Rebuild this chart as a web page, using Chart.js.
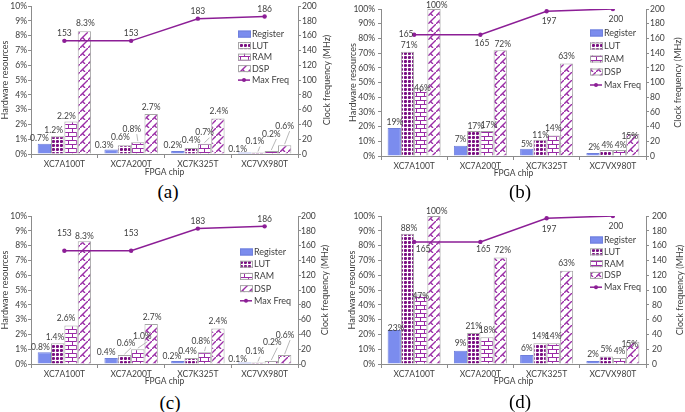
<!DOCTYPE html>
<html>
<head>
<meta charset="utf-8">
<script src="https://cdn.jsdelivr.net/npm/chart.js@4"></script>
<style>
  body { margin: 0; background: #fff; }
  #wrap { position: relative; width: 685px; height: 412px; overflow: hidden; }
  #wrap canvas { position: absolute; }
  .cap { position: absolute; width: 60px; text-align: center; font: 19px "Liberation Serif", serif; color: #000; }
</style>
</head>
<body>
<div id="wrap">
  <canvas id="chartA" width="345" height="181" style="left:0;top:0"></canvas>
  <canvas id="chartB" width="345" height="182" style="left:340px;top:0"></canvas>
  <canvas id="chartC" width="345" height="185" style="left:0;top:205px"></canvas>
  <canvas id="chartD" width="345" height="185" style="left:340px;top:205px"></canvas>
  <div class="cap" style="left:138px;top:181px">(a)</div>
  <div class="cap" style="left:490px;top:181px">(b)</div>
  <div class="cap" style="left:140px;top:392px">(c)</div>
  <div class="cap" style="left:490px;top:391px">(d)</div>
</div>
<script>
const chips = ['XC7A100T', 'XC7A200T', 'XC7K325T', 'XC7VX980T'];
const seriesNames = ['Register', 'LUT', 'RAM', 'DSP', 'Max Freq'];

// (a)
const registerA = [0.7, 0.3, 0.2, 0.1];
const lutA = [1.2, 0.6, 0.4, 0.1];
const ramA = [2.2, 0.8, 0.7, 0.2];
const dspA = [8.3, 2.7, 2.4, 0.6];
const freqA = [153, 153, 183, 186];

// (b)
const registerB = [19, 7, 5, 2];
const lutB = [71, 17, 11, 4];
const ramB = [46, 17, 14, 4];
const dspB = [100, 72, 63, 15];
const freqB = [165, 165, 197, 200];

// (c)
const registerC = [0.8, 0.4, 0.2, 0.1];
const lutC = [1.4, 0.6, 0.4, 0.1];
const ramC = [2.6, 1.0, 0.8, 0.2];
const dspC = [8.3, 2.7, 2.4, 0.6];
const freqC = [153, 153, 183, 186];

// (d)
const registerD = [23, 9, 6, 2];
const lutD = [88, 21, 14, 5];
const ramD = [47, 18, 14, 4];
const dspD = [100, 72, 63, 15];
const freqD = [165, 165, 197, 200];

const purple = '#8c1e96';
const axisGrey = '#8c8c8c';
const textGrey = '#404040';

Chart.defaults.font.family = 'Lato';
Chart.defaults.font.size = 8.5;
Chart.defaults.color = textGrey;

function makePattern(kind) {
  const c = document.createElement('canvas');
  const g = c.getContext('2d');
  if (kind === 'dots') {
    c.width = 4; c.height = 4;
    g.fillStyle = '#fff'; g.fillRect(0, 0, 4, 4);
    g.fillStyle = '#7a1082';
    g.beginPath(); g.arc(1.5, 1.5, 1.6, 0, Math.PI * 2); g.fill();
  } else if (kind === 'bricks') {
    c.width = 8; c.height = 8;
    g.fillStyle = '#fff'; g.fillRect(0, 0, 8, 8);
    g.strokeStyle = '#9a2ca6'; g.lineWidth = 1;
    g.beginPath();
    g.moveTo(0, 0.5); g.lineTo(8, 0.5);
    g.moveTo(0, 4.5); g.lineTo(8, 4.5);
    g.moveTo(0.5, 0); g.lineTo(0.5, 4.5);
    g.moveTo(4.5, 4.5); g.lineTo(4.5, 8);
    g.stroke();
  } else {
    c.width = 8; c.height = 8;
    g.fillStyle = '#fff'; g.fillRect(0, 0, 8, 8);
    g.strokeStyle = '#9a2ca6'; g.lineWidth = 1.4;
    g.beginPath();
    g.moveTo(-1, 9); g.lineTo(9, -1);
    g.moveTo(2.5, 5.5); g.lineTo(5, 8);
    g.stroke();
  }
  return g.createPattern(c, 'repeat');
}

const fills = ['#7b8cee', makePattern('dots'), makePattern('bricks'), makePattern('zigzag')];
const borders = ['#6f7fdc', '#a6a6a6', '#a6a6a6', '#a6a6a6'];

// value labels above bars and line points
const valueLabels = {
  id: 'valueLabels',
  afterDatasetsDraw(chart, args, o) {
    const ctx = chart.ctx;
    ctx.save();
    ctx.font = '8.5px Lato';
    ctx.textAlign = 'center';
    ctx.textBaseline = 'middle';
    chart.data.datasets.forEach((ds, di) => {
      const meta = chart.getDatasetMeta(di);
      meta.data.forEach((el, i) => {
        const v = ds.data[i];
        const text = ds.type === 'line' ? String(v) : o.fmt(v);
        const n = o.nudge[di][i] || [0, 0];
        const x = el.x + n[0];
        const y = el.y - 7 + n[1];
        if (n[2]) {
          ctx.strokeStyle = '#a6a6a6';
          ctx.lineWidth = 0.8;
          ctx.beginPath();
          ctx.moveTo(x + 5, y + 5);
          ctx.lineTo(el.x, el.y - 1);
          ctx.stroke();
        }
        ctx.fillStyle = textGrey;
        ctx.fillText(text, x, y);
      });
    });
    ctx.restore();
  }
};

// legend inside the plot, plus right axis title reading upwards
const sideBits = {
  id: 'sideBits',
  afterDraw(chart, args, o) {
    const ctx = chart.ctx, a = chart.chartArea;
    ctx.save();
    ctx.font = '9px Lato';
    ctx.textBaseline = 'middle';
    let x = a.right + o.dx, y = a.top + o.dy;
    chart.data.datasets.forEach(ds => {
      if (ds.type === 'line') {
        ctx.strokeStyle = ds.borderColor;
        ctx.lineWidth = 1.5;
        ctx.beginPath(); ctx.moveTo(x, y); ctx.lineTo(x + 12, y); ctx.stroke();
        ctx.fillStyle = ds.borderColor;
        ctx.beginPath(); ctx.arc(x + 6, y, 2, 0, Math.PI * 2); ctx.fill();
      } else {
        ctx.fillStyle = ds.backgroundColor;
        ctx.fillRect(x, y - 3.5, 13, 7);
        ctx.strokeStyle = ds.borderColor;
        ctx.lineWidth = 1;
        ctx.strokeRect(x + 0.5, y - 3, 12, 6);
      }
      ctx.fillStyle = textGrey;
      ctx.fillText(ds.label, x + 14, y);
      y += o.gap;
    });
    ctx.translate(o.titleX, (a.top + a.bottom) / 2);
    ctx.rotate(-Math.PI / 2);
    ctx.textAlign = 'center';
    ctx.fillText('Clock frequency (MHz)', 0, 0);
    ctx.restore();
  }
};

function makeChart(id, reg, lut, ram, dsp, freq, g) {
  const series = [reg, lut, ram, dsp];
  const datasets = series.map((vals, k) => ({
    type: 'bar',
    label: seriesNames[k],
    data: vals,
    backgroundColor: fills[k],
    borderColor: borders[k],
    borderWidth: 1,
    yAxisID: 'y',
    order: 1,
    categoryPercentage: 0.8,
    barPercentage: 1.0
  }));
  datasets.push({
    type: 'line',
    label: seriesNames[4],
    data: freq,
    borderColor: purple,
    backgroundColor: purple,
    borderWidth: 1.5,
    pointRadius: 2.2,
    pointBackgroundColor: purple,
    pointBorderWidth: 0,
    yAxisID: 'y1',
    order: 0
  });

  return new Chart(document.getElementById(id), {
    data: { labels: chips, datasets },
    plugins: [valueLabels, sideBits],
    options: {
      responsive: false,
      animation: false,
      layout: { padding: { top: g.top, left: 0, right: 0, bottom: 0 } },
      plugins: {
        legend: { display: false },
        tooltip: { enabled: false },
        valueLabels: { fmt: g.fmt, nudge: g.nudge },
        sideBits: { dx: g.legX, dy: g.legY, gap: g.legGap, titleX: g.rTitleX }
      },
      scales: {
        x: {
          grid: { offset: true, drawOnChartArea: false, tickLength: 4, color: axisGrey },
          border: { color: axisGrey },
          ticks: { padding: 1, font: { size: 8.5 } },
          title: { display: true, text: 'FPGA chip', font: { size: 8.5 } },
          afterFit: s => { s.height = g.bottom; }
        },
        y: {
          position: 'left',
          min: 0, max: g.max,
          ticks: { stepSize: g.step, padding: g.lPad, callback: v => v + '%' },
          grid: { drawOnChartArea: false, tickLength: 3, color: axisGrey },
          border: { color: axisGrey },
          title: { display: true, text: 'Hardware resources', font: { size: 9 }, padding: { top: g.lTitle, bottom: 0 } },
          afterFit: s => { s.width = g.left; }
        },
        y1: {
          position: 'right',
          min: 0, max: 200,
          ticks: { stepSize: 20, padding: g.rPad },
          grid: { drawOnChartArea: false, tickLength: 3, color: axisGrey },
          border: { color: axisGrey },
          afterFit: s => { s.width = g.right; }
        }
      }
    }
  });
}

const fmtSmall = v => v.toFixed(1) + '%';
const fmtBig = v => Math.round(v) + '%';

makeChart('chartA', registerA, lutA, ramA, dspA, freqA, {
  top: 6, left: 31, right: 47, bottom: 27, max: 10, step: 1, fmt: fmtSmall,
  lPad: 1, rPad: 1, lTitle: 0, rTitleX: 327,
  legX: -60, legY: 28, legGap: 11.5,
  nudge: [
    [[-5, 1.5], [-7, 2.5], [-5, 1.5], [-7, 4]],
    [[-4, 1], [-4, -1], [0, -1], [-3, -4, 1]],
    [[-4.6, 2], [-6, -6, 1], [0, -4, 1], [0, -10, 1]],
    [[1, -1], [0, 0], [1, 0], [0, -12, 1]],
    [[0, -1], [0, -1], [0, 0], [0, 0]]
  ]
});

makeChart('chartB', registerB, lutB, ramB, dspB, freqB, {
  top: 9, left: 41, right: 39, bottom: 26, max: 100, step: 10, fmt: fmtBig,
  lPad: 3, rPad: 1, lTitle: 7.5, rTitleX: 338,
  legX: -56, legY: 24, legGap: 13,
  nudge: [
    [[0.6, 1], [0, 0.6], [0, 3], [1, 1]],
    [[1.7, 1], [2, 2], [0.7, 2], [1, 2]],
    [[1.7, 7], [2, 1], [0, 0], [1, 2]],
    [[2.8, 3], [2.5, 1], [0, 0], [-3, 9]],
    [[-8, 6.6], [1.6, 15.6], [2.4, 17.5], [3, 17]]
  ]
});

makeChart('chartC', registerC, lutC, ramC, dspC, freqC, {
  top: 11, left: 31, right: 47, bottom: 26, max: 10, step: 1, fmt: fmtSmall,
  lPad: 1, rPad: 0, lTitle: 0, rTitleX: 325,
  legX: -58, legY: 36, legGap: 12.2,
  nudge: [
    [[-4, 2], [-5, 0.7], [-6, 2.7], [-7, 3.5]],
    [[-2.7, 1], [1.6, -5.3, 1], [-3.7, -0.3], [-3, -3.8, 1]],
    [[-5, 0], [4.5, -5.5, 1], [-3.8, -3.5, 1], [1, -11.3, 1]],
    [[0, 2], [1, 0], [0, 0], [0.4, -13, 1]],
    [[0, -11], [0, -11], [0, 0], [0, 0]]
  ]
});

makeChart('chartD', registerD, lutD, ramD, dspD, freqD, {
  top: 11, left: 41, right: 39, bottom: 26, max: 100, step: 10, fmt: fmtBig,
  lPad: 3, rPad: 3, lTitle: 7, rTitleX: 340,
  legX: -56, legY: 24, legGap: 11.8,
  nudge: [
    [[1.8, 5], [0, 0], [0, 0], [0, 0]],
    [[1.5, 1.5], [0, 0], [0, 0], [0, 0]],
    [[0, 9], [0, 0], [0, 0], [0, 0]],
    [[2.8, 2], [2.5, 0], [0, 0], [-3, 9]],
    [[9, 14.5], [3, 14], [2.4, 17.8], [3, 17.5]]
  ]
});
</script>
</body>
</html>
